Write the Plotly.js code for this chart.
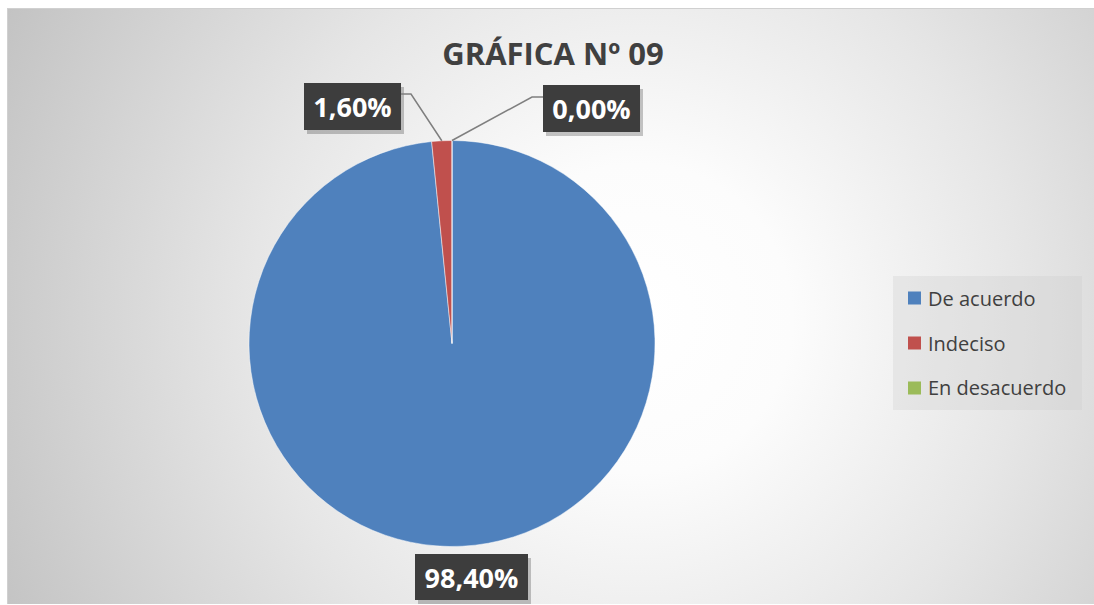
<!DOCTYPE html>
<html>
<head>
<meta charset="utf-8">
<script src="https://cdn.plot.ly/plotly-3.0.1.min.js"></script>
<style>
  html, body { margin: 0; padding: 0; background: #ffffff; }
  #wrap { position: relative; width: 1094px; height: 605px; overflow: hidden; background: #ffffff; }
  #bg { position: absolute; left: 7px; top: 8px; width: 1087px; height: 596px;
        background: radial-gradient(circle farthest-corner at 58% 52%, #ffffff 0%, #fcfcfc 22%, #e6e6e6 55%, #c3c3c3 100%);
        border-top: 1px solid #d0d0d0; border-left: 1px solid #d0d0d0; box-sizing: border-box; }
  #chart { position: absolute; left: 0; top: 0; width: 1094px; height: 605px; }
</style>
</head>
<body>
<div id="wrap"><div id="bg"></div><div id="chart"></div></div>
<script>
// ---- data ----
const categories = ['De acuerdo', 'Indeciso', 'En desacuerdo'];
const values = [98.4, 1.6, 0.0];
const labelTexts = values.map(v => v.toFixed(2).replace('.', ',') + '%');
const colors = ['#4F81BD', '#C0504D', '#9BBB59'];
const chartTitle = 'GRÁFICA Nº 09';

// ---- layout (pixels) ----
const W = 1094, H = 605;
const cx = 452, cy = 343.5, r = 203;
const px = x => x / W;
const py = y => 1 - y / H;

// label boxes: [left, top, right, bottom], leader side
const boxes = [
  { l: 415, t: 554, r: 528, b: 600, leader: null },
  { l: 304, t: 83, r: 401, b: 130, leader: 'right', ly: 94 },
  { l: 543, t: 85, r: 640, b: 132, leader: 'left', ly: 97 }
];

const total = values.reduce((a, b) => a + b, 0);
let cum = 0;
const mids = values.map(v => { const m = (cum + v / 2) / total; cum += v; return m; });

const shapes = [];
const annotations = [];

boxes.forEach((b, i) => {
  // shadow
  shapes.push({ type: 'rect', xref: 'paper', yref: 'paper', layer: 'above',
    x0: px(b.l + 3), x1: px(b.r + 3), y0: py(b.b + 4), y1: py(b.t + 4),
    fillcolor: 'rgba(0,0,0,0.22)', line: { width: 0 } });
  // leader line
  if (b.leader) {
    const th = mids[i] * 2 * Math.PI;
    const ex = cx + r * Math.sin(th), ey = cy - r * Math.cos(th);
    const edge = b.leader === 'right' ? b.r : b.l;
    const elbow = b.leader === 'right' ? edge + 10 : edge - 11;
    shapes.push({ type: 'path', xref: 'paper', yref: 'paper', layer: 'above',
      path: `M ${px(ex)} ${py(ey)} L ${px(elbow)} ${py(b.ly)} L ${px(edge)} ${py(b.ly)}`,
      line: { color: '#7f7f7f', width: 1.5 } });
  }
  annotations.push({ xref: 'paper', yref: 'paper', x: px((b.l + b.r) / 2), y: py((b.t + b.b) / 2),
    xanchor: 'center', yanchor: 'middle', showarrow: false,
    text: '<b>' + labelTexts[i] + '</b>', width: b.r - b.l, height: b.b - b.t,
    bgcolor: '#3d3d3d', borderpad: 0, borderwidth: 0,
    font: { family: 'Open Sans, sans-serif', size: 27, color: '#ffffff' } });
});

// legend (custom)
shapes.push({ type: 'rect', xref: 'paper', yref: 'paper', layer: 'below',
  x0: px(893), x1: px(1082), y0: py(410), y1: py(276),
  fillcolor: 'rgba(200,200,200,0.28)', line: { width: 0 } });
const legendY0 = 298, legendStep = 45;
categories.forEach((c, i) => {
  const y = legendY0 + i * legendStep;
  shapes.push({ type: 'rect', xref: 'paper', yref: 'paper', layer: 'above',
    x0: px(908), x1: px(921), y0: py(y + 6.5), y1: py(y - 6.5),
    fillcolor: colors[i], line: { width: 0 } });
  annotations.push({ xref: 'paper', yref: 'paper', x: px(926), y: py(y),
    xanchor: 'left', yanchor: 'middle', showarrow: false, text: c,
    font: { family: 'Open Sans, sans-serif', size: 20, color: '#404040' } });
});

const data = [{
  type: 'pie',
  labels: categories,
  values: values,
  marker: { colors: colors, line: { color: 'rgba(255,255,255,0.6)', width: 0.8 } },
  sort: false,
  direction: 'clockwise',
  rotation: 0,
  textinfo: 'none',
  hoverinfo: 'label+percent',
  showlegend: false,
  domain: { x: [px(cx - r), px(cx + r)], y: [py(cy + r), py(cy - r)] }
}];

const layout = {
  width: W, height: H,
  margin: { l: 0, r: 0, t: 0, b: 0 },
  paper_bgcolor: 'rgba(0,0,0,0)',
  plot_bgcolor: 'rgba(0,0,0,0)',
  title: { text: '<b>' + chartTitle + '</b>', x: px(553), xanchor: 'center', y: py(54), yanchor: 'middle',
    font: { family: 'Open Sans, sans-serif', size: 31, color: '#404040' } },
  showlegend: false,
  shapes: shapes,
  annotations: annotations
};

Plotly.newPlot('chart', data, layout, { displayModeBar: false, staticPlot: true });
</script>
</body>
</html>
